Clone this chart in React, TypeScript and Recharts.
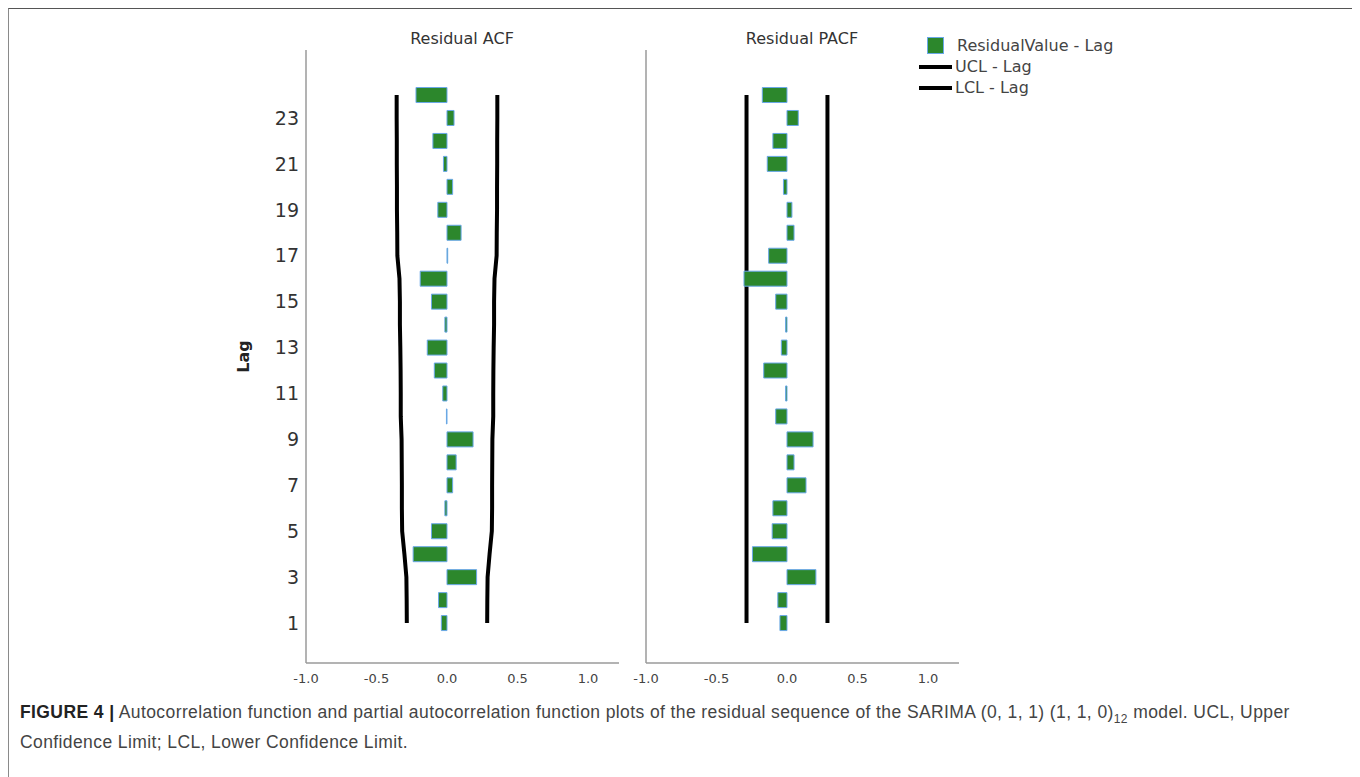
import React from "react";
import { ComposedChart, Bar, Line, XAxis, YAxis } from "recharts";

const lags = [1, 2, 3, 4, 5, 6, 7, 8, 9, 10, 11, 12, 13, 14, 15, 16, 17, 18, 19, 20, 21, 22, 23, 24];

const acfValues = [
  -0.04, -0.06, 0.21, -0.24, -0.11, -0.015, 0.04, 0.065, 0.185, -0.004, -0.03, -0.09,
  -0.14, -0.015, -0.11, -0.19, 0.005, 0.1, -0.065, 0.04, -0.025, -0.1, 0.05, -0.22,
];
const acfUcl = [
  0.285, 0.286, 0.288, 0.302, 0.318, 0.32, 0.32, 0.321, 0.322, 0.328, 0.328, 0.329,
  0.331, 0.334, 0.334, 0.337, 0.352, 0.353, 0.355, 0.355, 0.356, 0.356, 0.357, 0.357,
];
const acfLcl = acfUcl.map((v) => -v);

const pacfValues = [
  -0.05, -0.065, 0.205, -0.245, -0.105, -0.1, 0.135, 0.05, 0.185, -0.08, -0.01, -0.165,
  -0.04, -0.01, -0.08, -0.305, -0.13, 0.05, 0.035, -0.025, -0.14, -0.1, 0.08, -0.175,
];
const pacfUcl = [
  0.287, 0.287, 0.287, 0.287, 0.287, 0.287, 0.287, 0.287, 0.287, 0.287, 0.287, 0.287,
  0.287, 0.287, 0.287, 0.287, 0.287, 0.287, 0.287, 0.287, 0.287, 0.287, 0.287, 0.287,
];
const pacfLcl = pacfUcl.map((v) => -v);

const xTicks = [-1, -0.5, 0, 0.5, 1];
const yTicks = [1, 3, 5, 7, 9, 11, 13, 15, 17, 19, 21, 23];

const legendItems = [
  { label: "ResidualValue - Lag", kind: "bar" },
  { label: "UCL - Lag", kind: "line" },
  { label: "LCL - Lag", kind: "line" },
];

const acfData = lags.map((lag, i) => ({
  lag,
  value: acfValues[i],
  ucl: acfUcl[i],
  lcl: acfLcl[i],
}));

const pacfData = lags.map((lag, i) => ({
  lag,
  value: pacfValues[i],
  ucl: pacfUcl[i],
  lcl: pacfLcl[i],
}));

const FONT = "'DejaVu Sans', sans-serif";
const AXIS = "#9a9a9a";
const GREEN = "#2c872c";
const BAR_EDGE = "#6aa8e8";

function Panel({ data, showY, width }: any) {
  return (
    <ComposedChart
      width={width}
      height={700}
      data={data}
      layout="vertical"
      margin={{ top: 41, right: 6, bottom: 16, left: showY ? 10 : 0 }}
    >
      <XAxis
        type="number"
        domain={[-1, 1.22]}
        ticks={xTicks}
        allowDataOverflow
        tickFormatter={(v) => v.toFixed(1)}
        tickLine={false}
        tickSize={0}
        tickMargin={11}
        height={30}
        axisLine={{ stroke: AXIS, strokeWidth: 1.5 }}
        tick={{ fill: "#444", fontSize: 13, fontFamily: FONT }}
      />
      <YAxis
        type="number"
        dataKey="lag"
        domain={[-0.74, 25.96]}
        reversed
        allowDataOverflow
        ticks={yTicks}
        width={showY ? 126 : 16}
        tickLine={false}
        tickSize={0}
        tickMargin={7}
        tick={showY ? { fill: "#333", fontSize: 19, fontFamily: FONT } : false}
        axisLine={{ stroke: AXIS, strokeWidth: 1.5 }}
        label={
          showY
            ? {
                value: "Lag",
                angle: -90,
                position: "center",
                style: { fontFamily: FONT, fontSize: 16, fontWeight: "bold", fill: "#222" },
              }
            : undefined
        }
      />
      <Line
        dataKey="ucl"
        name="UCL - Lag"
        type="linear"
        stroke="#000"
        strokeWidth={4}
        dot={false}
        isAnimationActive={false}
      />
      <Line
        dataKey="lcl"
        name="LCL - Lag"
        type="linear"
        stroke="#000"
        strokeWidth={4}
        dot={false}
        isAnimationActive={false}
      />
      {/* bars sit above the limit lines, as in the source plot */}
      <Bar
        dataKey="value"
        name="ResidualValue - Lag"
        barSize={15}
        fill={GREEN}
        stroke={BAR_EDGE}
        strokeWidth={1}
        zIndex={500}
        isAnimationActive={false}
      />
    </ComposedChart>
  );
}

const titleStyle: React.CSSProperties = {
  position: "absolute",
  top: 20,
  fontFamily: FONT,
  fontSize: 16,
  color: "#333",
  textAlign: "center",
  width: 200,
};

export default function App() {
  return (
    <div
      style={{
        position: "relative",
        width: 1348,
        height: 800,
        border: "1px solid #8a8a8a",
        borderTopColor: "#555",
        background: "#fff",
      }}
    >
      <div style={{ ...titleStyle, left: 462 - 9 - 100 }}>Residual ACF</div>
      <div style={{ ...titleStyle, left: 802 - 9 - 100 }}>Residual PACF</div>
      <div style={{ position: "absolute", left: 161, top: 0 }}>
        <Panel data={acfData} showY width={455} />
      </div>
      <div style={{ position: "absolute", left: 621, top: 0 }}>
        <Panel data={pacfData} showY={false} width={335} />
      </div>
      <div
        style={{
          position: "absolute",
          left: 910,
          top: 26,
          fontFamily: FONT,
          fontSize: 16,
          color: "#444",
        }}
      >
        {legendItems.map((it) => (
          <div key={it.label} style={{ display: "flex", alignItems: "center", height: 21 }}>
            {it.kind === "bar" ? (
              <span
                style={{
                  display: "inline-block",
                  width: 15,
                  height: 15,
                  background: GREEN,
                  border: `1px solid ${BAR_EDGE}`,
                  marginLeft: 8,
                  marginRight: 13,
                }}
              />
            ) : (
              <span
                style={{
                  display: "inline-block",
                  width: 33,
                  height: 4,
                  background: "#000",
                  marginRight: 3,
                }}
              />
            )}
            <span>{it.label}</span>
          </div>
        ))}
      </div>
      <div
        style={{
          position: "absolute",
          left: 11,
          top: 688,
          fontFamily: "'Liberation Sans', Arial, sans-serif",
          fontSize: 17.5,
          letterSpacing: 0.4,
          lineHeight: "30px",
          color: "#444",
          whiteSpace: "nowrap",
        }}
      >
        <span style={{ fontWeight: "bold", color: "#222" }}>FIGURE 4 |</span> Autocorrelation
        function and partial autocorrelation function plots of the residual sequence of the
        SARIMA (0, 1, 1) (1, 1, 0)
        <sub style={{ fontSize: 12, lineHeight: 0 }}>12</sub> model. UCL, Upper
        <br />
        Confidence Limit; LCL, Lower Confidence Limit.
      </div>
    </div>
  );
}
